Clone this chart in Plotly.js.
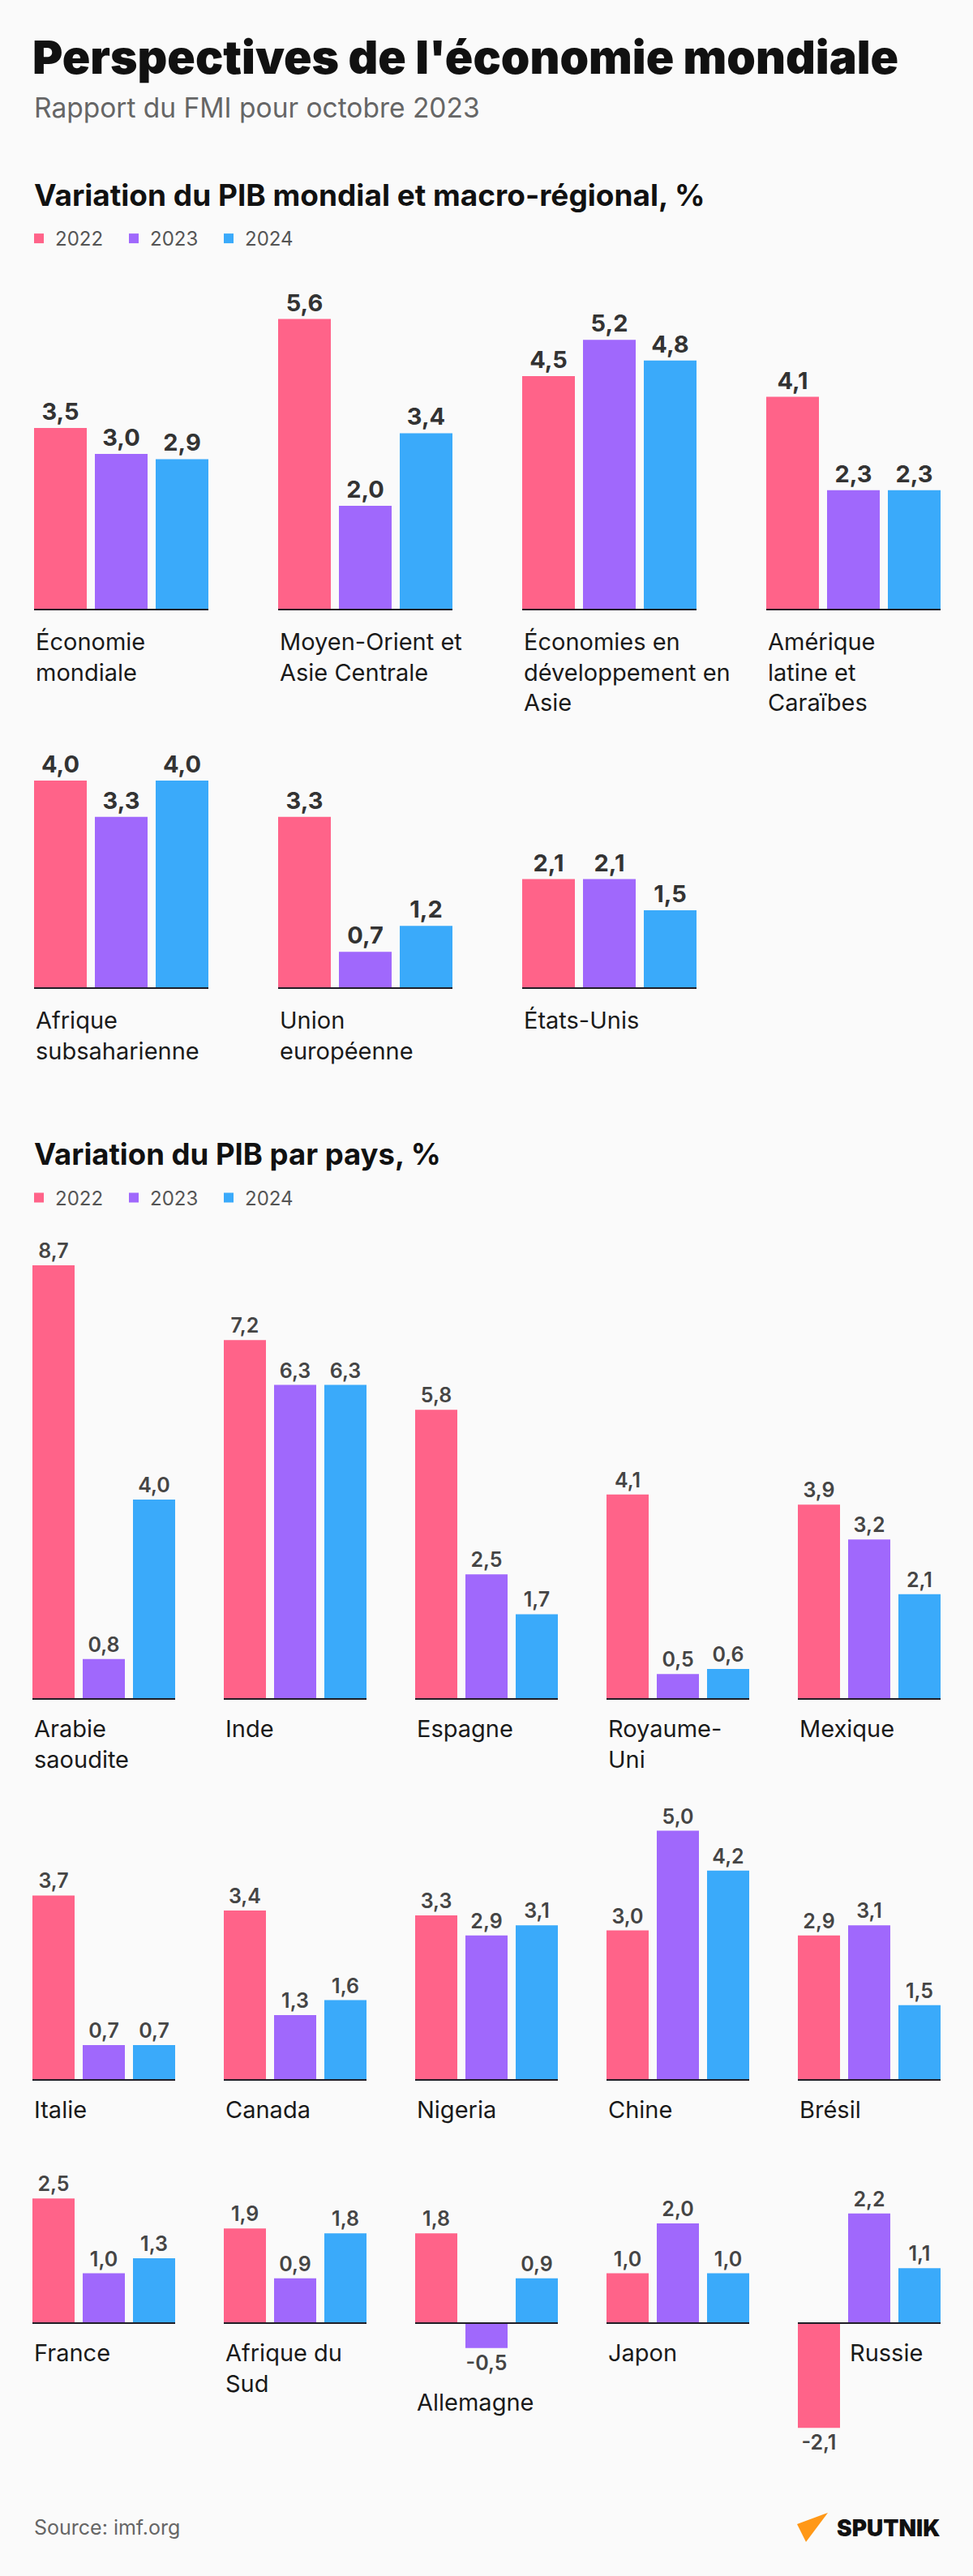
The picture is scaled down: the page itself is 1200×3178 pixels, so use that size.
<!DOCTYPE html>
<html>
<head>
<meta charset="utf-8">
<script src="https://cdn.plot.ly/plotly-3.0.1.min.js"></script>
<style>
html,body{margin:0;padding:0;background:#fafafa;}
#chart{width:1200px;height:3178px;}
</style>
</head>
<body>
<div id="chart"></div>
<script>
// ---------------- DATA ----------------
const years = ['2022', '2023', '2024'];

const regions = [
  'Économie<br>mondiale',
  'Moyen-Orient et<br>Asie Centrale',
  'Économies en<br>développement en<br>Asie',
  'Amérique<br>latine et<br>Caraïbes',
  'Afrique<br>subsaharienne',
  'Union<br>européenne',
  'États-Unis'
];
const region2022 = [3.5, 5.6, 4.5, 4.1, 4.0, 3.3, 2.1];
const region2023 = [3.0, 2.0, 5.2, 2.3, 3.3, 0.7, 2.1];
const region2024 = [2.9, 3.4, 4.8, 2.3, 4.0, 1.2, 1.5];

const countries = [
  'Arabie<br>saoudite', 'Inde', 'Espagne', 'Royaume-<br>Uni', 'Mexique',
  'Italie', 'Canada', 'Nigeria', 'Chine', 'Brésil',
  'France', 'Afrique du<br>Sud', 'Allemagne', 'Japon', 'Russie'
];
const country2022 = [8.7, 7.2, 5.8, 4.1, 3.9, 3.7, 3.4, 3.3, 3.0, 2.9, 2.5, 1.9, 1.8, 1.0, -2.1];
const country2023 = [0.8, 6.3, 2.5, 0.5, 3.2, 0.7, 1.3, 2.9, 5.0, 3.1, 1.0, 0.9, -0.5, 2.0, 2.2];
const country2024 = [4.0, 6.3, 1.7, 0.6, 2.1, 0.7, 1.6, 3.1, 4.2, 1.5, 1.3, 1.8, 0.9, 1.0, 1.1];

// ---------------- STYLE / LAYOUT ----------------
const W = 1200, H = 3178;
const fx = p => p / W;
const fy = p => 1 - p / H;
const FONT = "Inter, 'Noto Sans', sans-serif";
const colors = ['#ff6389', '#a068fc', '#3aaafa'];
const fmt = v => v.toFixed(1).replace('.', ',');

const sections = [
  {labels: regions, series: [region2022, region2023, region2024], perRow: 4,
   lefts: [42, 343, 644, 945], baselines: [752, 1219], scale: 64, barW: 65, gap: 10,
   valSize: 29, valWeight: 700, valColor: '#333333', labelGap: 49, legend: 'legend'},
  {labels: countries, series: [country2022, country2023, country2024], perRow: 5,
   lefts: [40, 276, 512, 748, 984], baselines: [2096, 2566, 2866], scale: 61.5, barW: 52, gap: 10,
   valSize: 25, valWeight: 600, valColor: '#454545', labelGap: 46, legend: 'legend2'}
];

const data = [];
const annotations = [];
const shapes = [];
const layout = {
  width: W, height: H,
  margin: {l: 0, r: 0, t: 0, b: 0},
  paper_bgcolor: '#fafafa',
  plot_bgcolor: 'rgba(0,0,0,0)',
  barmode: 'overlay',
  font: {family: FONT, color: '#1a1a1a'},
  showlegend: true,
  title: {
    text: "Perspectives de l'économie mondiale",
    x: fx(40), xref: 'paper', xanchor: 'left',
    y: fy(71), yref: 'paper', yanchor: 'middle',
    font: {family: FONT, size: 57, weight: 900, color: '#111111'}
  }
};

let n = 0;
sections.forEach((s) => {
  const slot = s.barW + s.gap;
  const h = (s.gap / 2) / slot;
  const gw = 3 * slot - s.gap;
  s.labels.forEach((lab, i) => {
    n++;
    const suf = n === 1 ? '' : String(n);
    const row = Math.floor(i / s.perRow);
    const col = i % s.perRow;
    const left = s.lefts[col];
    const base = s.baselines[row];
    const vals = s.series.map(a => a[i]);
    const rowVals = [];
    for (let j = row * s.perRow; j < Math.min((row + 1) * s.perRow, s.labels.length); j++) {
      s.series.forEach(a => rowVals.push(a[j]));
    }
    const maxV = Math.max(0, ...rowVals), minV = Math.min(0, ...rowVals);
    const top = base - maxV * s.scale - 20;
    const bot = base - minV * s.scale + 20;
    layout['xaxis' + suf] = {
      domain: [fx(left), fx(left + gw)], range: [-0.5 + h, 2.5 - h],
      anchor: 'y' + suf, type: 'linear',
      showgrid: false, zeroline: false, showticklabels: false, ticks: '', showline: false, fixedrange: true
    };
    layout['yaxis' + suf] = {
      domain: [fy(bot), fy(top)], range: [-(bot - base) / s.scale, (base - top) / s.scale],
      anchor: 'x' + suf, type: 'linear',
      showgrid: false, zeroline: true, zerolinecolor: '#1f1d26', zerolinewidth: 2.5,
      zerolinelayer: 'above traces',
      showticklabels: false, ticks: '', showline: false, fixedrange: true
    };
    vals.forEach((v, k) => {
      data.push({
        type: 'bar', x: [k], y: [v], width: s.barW / slot,
        xaxis: 'x' + suf, yaxis: 'y' + suf,
        name: years[k], legend: s.legend, legendgroup: s.legend + years[k],
        showlegend: i === 0,
        marker: {color: colors[k], line: {width: 0}},
        text: [fmt(v)], textposition: 'outside', cliponaxis: false, constraintext: 'none',
        textfont: {family: FONT, size: s.valSize, weight: s.valWeight, color: s.valColor},
        hoverinfo: 'skip'
      });
    });
    const firstNeg = vals[0] < 0;
    const otherNeg = vals.slice(1).some(v => v < 0);
    const minVal = Math.min(...vals);
    annotations.push({
      xref: 'x' + suf, yref: 'y' + suf,
      x: (firstNeg ? 1 : 0) - (s.barW / slot) / 2,
      y: otherNeg ? minVal : 0,
      xanchor: 'left', yanchor: 'top', align: 'left',
      yshift: otherNeg ? -(76 - 29) : -(s.labelGap - 29),
      showarrow: false, text: lab,
      font: {family: FONT, size: 29, color: '#1a1a1a'}
    });
  });
});

function paperText(text, xpx, ypx, size, weight, color, anchor) {
  annotations.push({
    xref: 'paper', yref: 'paper', x: fx(xpx), y: fy(ypx),
    xanchor: anchor || 'left', yanchor: 'middle', showarrow: false, text: text,
    font: {family: FONT, size: size, weight: weight, color: color}
  });
}
paperText('Rapport du FMI pour octobre 2023', 40, 133.5, 33.5, 400, '#666666');
paperText('Variation du PIB mondial et macro-régional, %', 40, 240.5, 37, 700, '#111111');
paperText('Variation du PIB par pays, %', 40, 1424, 36.5, 700, '#111111');
paperText('Source: imf.org', 40, 3117.5, 25, 400, '#666666');
paperText('SPUTNIK', 1161, 3119, 28, 900, '#111111', 'right');

shapes.push({
  type: 'path', xref: 'paper', yref: 'paper', line: {width: 0}, fillcolor: '#ff9817',
  path: 'M ' + fx(983) + ',' + fy(3114) + ' L ' + fx(1021) + ',' + fy(3100) + ' L ' + fx(994) + ',' + fy(3136) + ' Z'
});

const legendBase = {
  orientation: 'h', xanchor: 'left', yanchor: 'middle', xref: 'paper', yref: 'paper',
  bgcolor: 'rgba(0,0,0,0)', borderwidth: 0, entrywidth: 72, entrywidthmode: 'pixels',
  font: {family: FONT, size: 24, color: '#555555'}, itemclick: false, itemdoubleclick: false,
  traceorder: 'normal'
};
layout.legend = Object.assign({}, legendBase, {x: fx(28), y: fy(294.5)});
layout.legend2 = Object.assign({}, legendBase, {x: fx(28), y: fy(1478)});
layout.annotations = annotations;
layout.shapes = shapes;

Plotly.newPlot('chart', data, layout, {displayModeBar: false, staticPlot: true});
</script>
</body>
</html>
